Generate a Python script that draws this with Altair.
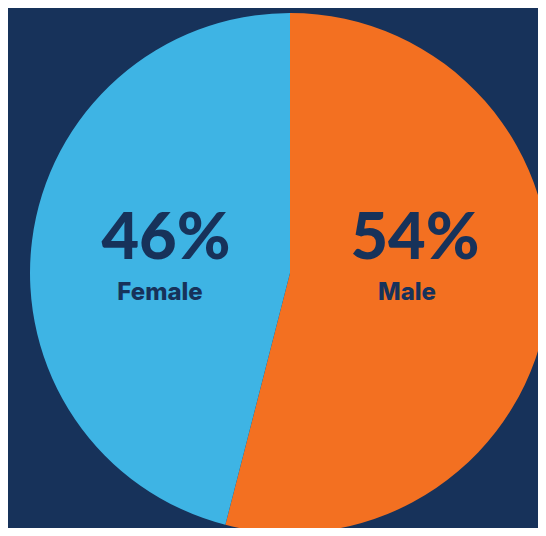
import altair as alt
import pandas as pd

genders = ["Male", "Female"]
shares = [54, 46]
pct_labels = ["54%", "46%"]

df = pd.DataFrame({"gender": genders, "share": shares, "pct": pct_labels, "order": [0, 1]})

NAVY = "#17325A"
ORANGE = "#F37021"
BLUE = "#3EB4E4"

base = alt.Chart(df)

pie = base.mark_arc(radius=260, stroke=None).encode(
    theta=alt.Theta("share:Q", stack=True),
    order=alt.Order("order:Q"),
    color=alt.Color("gender:N", scale=alt.Scale(domain=["Male", "Female"], range=[ORANGE, BLUE]), legend=None),
    x=alt.value(282),
    y=alt.value(265),
)

pct_x = alt.Scale(type="point", domain=["Female", "Male"], range=[158, 407], padding=0)
lab_x = alt.Scale(type="point", domain=["Female", "Male"], range=[152, 399], padding=0)

pct = base.mark_text(font="Lato", fontWeight=900, fontSize=65, color=NAVY, baseline="alphabetic", align="center").encode(
    x=alt.X("gender:N", scale=pct_x, axis=None),
    y=alt.value(251),
    text="pct:N",
)

lab = base.mark_text(font="Inter", fontWeight=800, fontSize=24, color=NAVY, baseline="alphabetic", align="center").encode(
    x=alt.X("gender:N", scale=lab_x, axis=None),
    y=alt.value(292),
    text="gender:N",
)

chart = alt.layer(pie, pct, lab).resolve_scale(x="independent").properties(
    width=530, height=520, background=NAVY, padding=0,
    autosize=alt.AutoSizeParams(type="none"),
).configure_view(stroke=None)

chart.save("out.html", embed_options={"renderer": "svg", "actions": False})
